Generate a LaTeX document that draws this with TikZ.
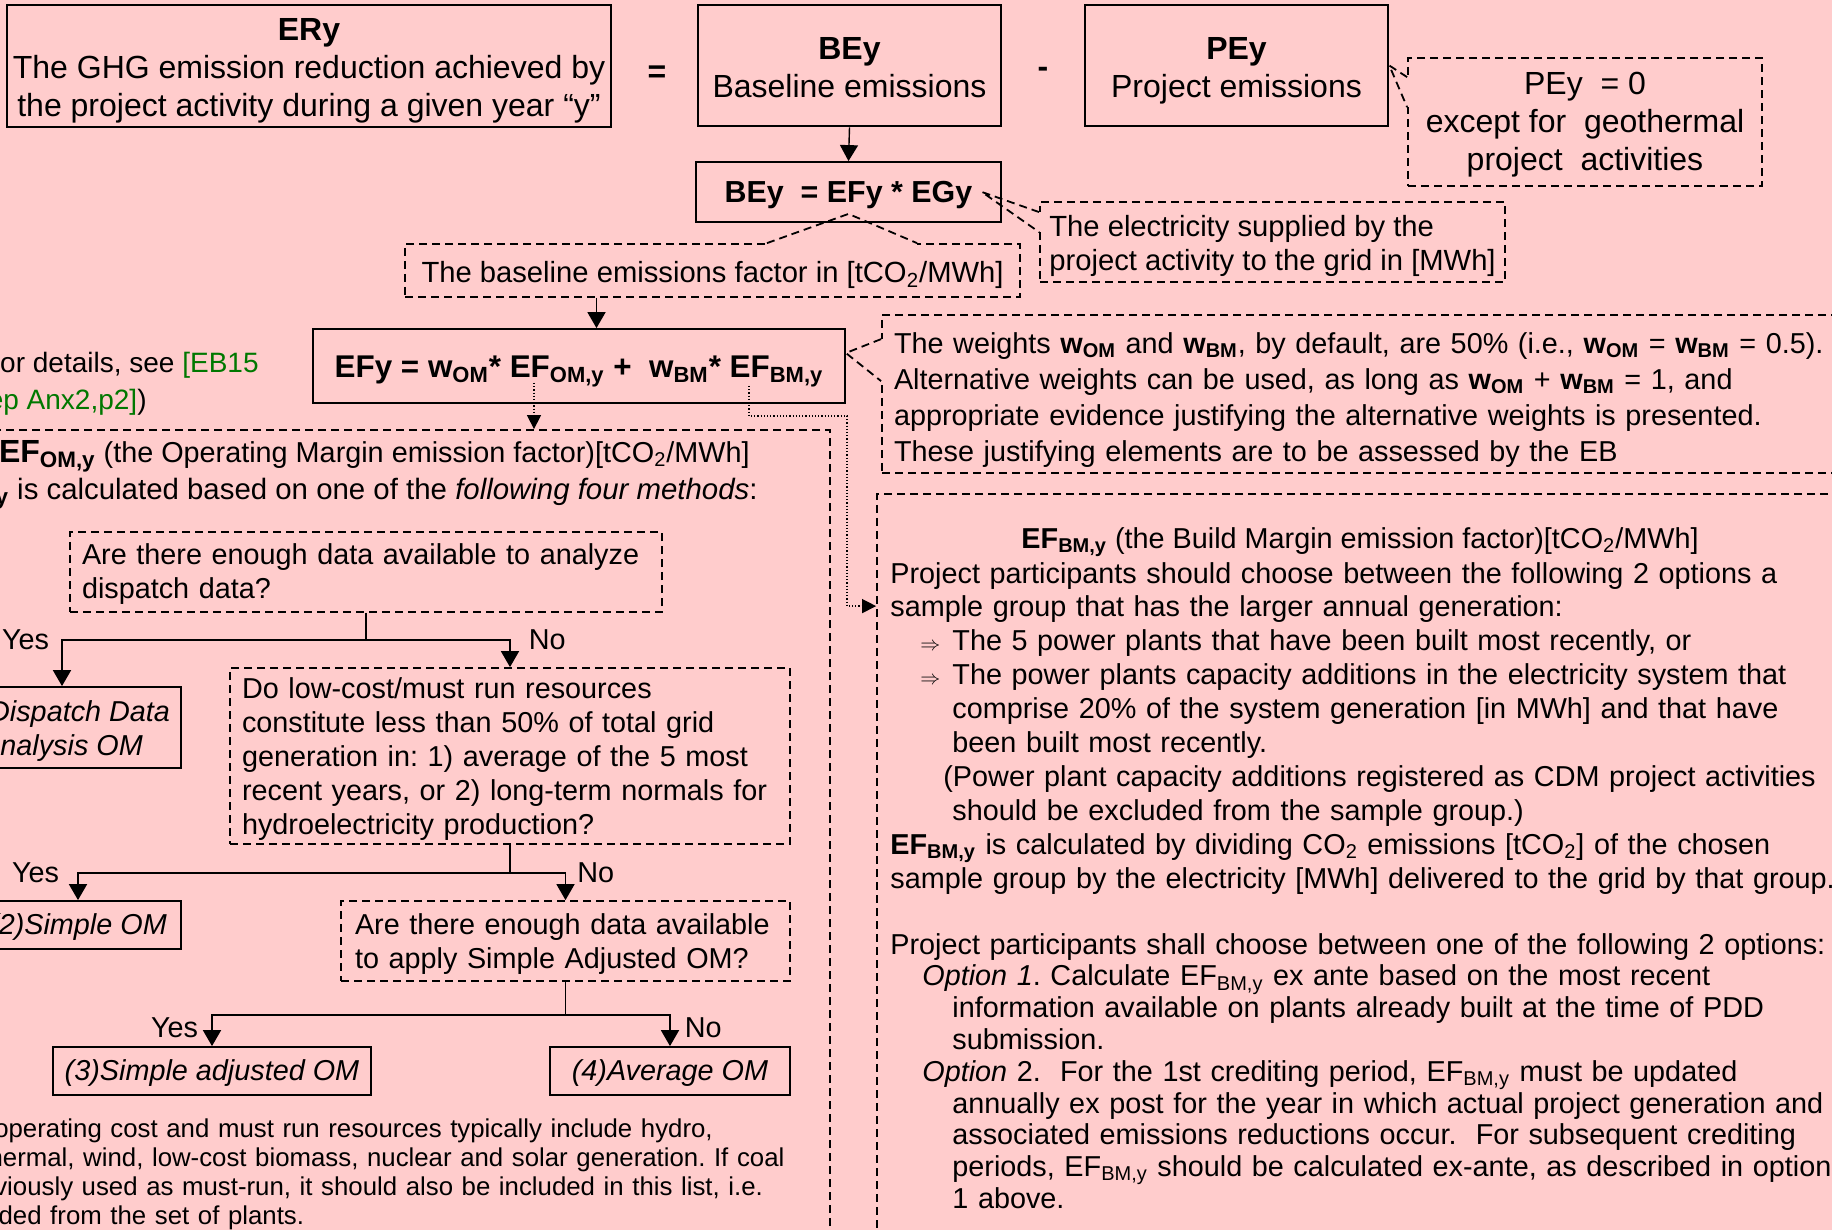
\documentclass[tikz,border=0pt]{standalone}
\usepackage{fontspec}
\setmainfont{Liberation Sans}
\usetikzlibrary{arrows.meta}
\definecolor{fondrose}{RGB}{255,204,204}
\definecolor{vertlien}{RGB}{0,120,0}
\frenchspacing
\newcommand\bigtxt{\fontsize{16pt}{19pt}\selectfont}
\newcommand\bodytxt{\fontsize{14.4pt}{17pt}\selectfont}
\newcommand\boxtxt{\fontsize{14.6pt}{17pt}\selectfont}
\newcommand\notetxt{\fontsize{12.9pt}{14.65pt}\selectfont}
\newcommand\arrowsym{{\fontsize{10pt}{10pt}\selectfont$\Rightarrow$}}
\tikzset{
  frame_big/.style = {draw=black, line width=1.3pt, inner sep=0pt},% boite du haut
  frame_s/.style = {draw=black, line width=0.9pt, inner sep=0pt},% boite pleine
  frame_d/.style = {draw=black, line width=0.9pt, inner sep=0pt,
    dash pattern=on 4pt off 2.5pt},% boite en tirets
  txt/.style = {inner sep=0pt, align=center, font=\bodytxt},% texte
  txt_big/.style = {txt, font=\bigtxt},
  lbl/.style = {inner sep=0pt, font=\bodytxt},% texte libre
  flow/.style = {line width=0.9pt, -{Triangle[width=9pt,length=8pt]}},
  dotflow/.style = {line width=0.7pt, dash pattern=on 0.6pt off 1pt,
    -{Triangle[width=7pt,length=7pt]}},
  wedge/.style = {line width=0.9pt, dash pattern=on 4pt off 2.5pt},% pointe de bulle
  bordergap/.style = {line width=2.6pt, fondrose}% coupe le bord sous la pointe
}
\begin{document}
\begin{tikzpicture}[x=0.5pt,y=-0.5pt]
\useasboundingbox (0,0) rectangle (1832,1230);
\clip (0,0) rectangle (1832,1230);
\fill[fondrose] (0,0) rectangle (1832,1230);

% equation du haut
\node[frame_big, minimum width=302pt, minimum height=61pt] (er) at (309,66) {};
\node[txt_big, yshift=-2.5pt] (ertxt) at (er.center)
  {\textbf{ERy}\\The GHG emission reduction achieved by\\the project activity during a given year “y”};
\node[font=\bigtxt\bfseries] (eqsign) at (657,74) {=};
\node[frame_big, minimum width=151.5pt, minimum height=60.5pt] (be) at (849.5,65.5) {};
\node[txt_big, yshift=-1.2pt] (betxt) at (be.center) {\textbf{BEy}\\Baseline emissions};
\node[font=\bigtxt\bfseries] (minus) at (1043,72) {-};
\node[frame_big, minimum width=151.5pt, minimum height=60.5pt] (pe) at (1236.5,65.5) {};
\node[txt_big, yshift=-2.7pt] (petxt) at (pe.center) {\textbf{PEy}\\Project emissions};
\node[frame_d, minimum width=177pt, minimum height=64pt] (pe0) at (1585,122) {};
\node[txt_big, yshift=-1.5pt] (pe0txt) at (pe0.center)
  {PEy\ \ = 0\\except for\ \ geothermal\\project\ \ activities};

\node[frame_s, minimum width=152.5pt, minimum height=30pt] (beq) at (848.5,192) {};
\node[txt, font=\fontsize{15.2pt}{18pt}\selectfont\bfseries, yshift=-1.7pt] (beqtxt) at (beq.center)
  {BEy\ \ = EFy * EGy};
\node[frame_d, minimum width=232.5pt, minimum height=40pt] (el) at (1272.5,242) {};
\node[txt, font=\boxtxt, align=left, yshift=-2pt] (eltxt) at (el.center)
  {The electricity supplied by the\\project activity to the grid in [MWh]};
\node[frame_d, minimum width=307.5pt, minimum height=26.5pt] (bl) at (712.5,270.5) {};
\node[txt, font=\boxtxt, yshift=-2.3pt] (bltxt) at (bl.center)
  {The baseline emissions factor in [tCO\textsubscript{2}/MWh]};
\node[frame_s, minimum width=266pt, minimum height=37pt] (ef) at (579,366) {};
\node[txt, font=\fontsize{15.7pt}{19pt}\selectfont\bfseries, yshift=-2.8pt] (eftxt) at (ef.center)
  {EFy = w\textsubscript{OM}* EF\textsubscript{OM,y} +\ \ w\textsubscript{BM}* EF\textsubscript{BM,y}};
\node[frame_d, minimum width=489pt, minimum height=79pt] (wt) at (1371,394) {};
\node[txt, font=\fontsize{14.4pt}{18pt}\selectfont, text width=477pt, align=left, yshift=-3pt] (wttxt) at (wt.center)
  {The weights \textbf{w\textsubscript{OM}} and \textbf{w\textsubscript{BM}}, by default, are 50\% (i.e., \textbf{w\textsubscript{OM}} = \textbf{w\textsubscript{BM}} = 0.5).\\
   Alternative weights can be used, as long as \textbf{w\textsubscript{OM}} + \textbf{w\textsubscript{BM}} = 1, and\\
   appropriate evidence justifying the alternative weights is presented.\\
   These justifying elements are to be assessed by the EB};

\draw[flow, line width=0.7pt] (be.south) -- (beq.north);
\draw[flow] ([xshift=-58pt]bl.south) -- ([xshift=-58pt]bl.south |- ef.north);

% pointes des bulles
\coordinate (pa) at ([yshift=-10pt]pe0.north west);
\coordinate (pb) at ([yshift=-25pt]pe0.north west);
\draw[bordergap] (pa) -- (pb);
\draw[wedge] (pa) -- (pe.east) -- (pb);
\coordinate (ba) at ([xshift=27.25pt]bl.north);
\coordinate (bb) at ([xshift=102.25pt]bl.north);
\draw[bordergap] (ba) -- (bb);
\draw[wedge] (ba) -- ([yshift=4.5pt]beq.south) -- (bb);
\coordinate (ea) at ([yshift=-5.5pt]el.north west);
\coordinate (eb) at ([yshift=-15.5pt]el.north west);
\draw[bordergap] (ea) -- (eb);
\draw[wedge] (ea) -- ([xshift=-10pt]beq.east) -- (eb);
\coordinate (wa) at ([yshift=-12.5pt]wt.north west);
\coordinate (wb) at ([yshift=-33.5pt]wt.north west);
\draw[bordergap] (wa) -- (wb);
\draw[wedge] (wa) -- ([yshift=6.5pt]ef.east) -- (wb);

\node[lbl, font=\fontsize{14pt}{17pt}\selectfont, anchor=base east] (det1) at (259,372) {(For details, see \textcolor{vertlien}{[EB15}};
\node[lbl, font=\fontsize{14pt}{17pt}\selectfont, anchor=base east] (det2) at (147,409) {\textcolor{vertlien}{Rep Anx2,p2]})};

% marge d'operation
\node[frame_d, minimum width=425pt, minimum height=415pt] (om) at (405,845) {};
\node[lbl, anchor=base east] (omt) at (750,462)
  {{\bigtxt\bfseries EF\textsubscript{OM,y}} (the Operating Margin emission factor)[tCO\textsubscript{2}/MWh]};
\node[lbl, font=\fontsize{14.7pt}{17pt}\selectfont, anchor=base east] (omm) at (758,499)
  {{\bigtxt\bfseries EF\textsubscript{OM,y}} is calculated based on one of the \textit{following four methods}:};

\node[frame_d, minimum width=296pt, minimum height=40pt] (q1) at (366,572) {};
\node[txt, text width=284pt, align=left, yshift=-1.2pt] (q1txt) at (q1.center)
  {Are there enough data available to analyze\\dispatch data?};
\node[frame_d, minimum width=280pt, minimum height=88pt] (q2) at (510,756) {};
\node[txt, text width=268pt, align=left, yshift=-1.5pt] (q2txt) at (q2.center)
  {Do low-cost/must run resources\\constitute less than 50\% of total grid\\generation in: 1) average of the 5 most\\recent years, or 2) long-term normals for\\hydroelectricity production?};
\node[frame_d, minimum width=224.5pt, minimum height=40pt] (q3) at (565.5,941) {};
\node[txt, text width=210.5pt, align=left, yshift=-1.75pt] (q3txt) at (q3.center)
  {Are there enough data available\\to apply Simple Adjusted OM?};
\node[frame_s, minimum width=119pt, minimum height=40.5pt] (disp) at (62,727.5) {};
\node[txt, font=\bodytxt\itshape, yshift=-1.75pt] (disptxt) at (disp.center) {(1)Dispatch Data\\Analysis OM};
\node[frame_s, minimum width=103pt, minimum height=24pt] (simple) at (78,925) {};
\node[txt, font=\bodytxt\itshape, yshift=-1.2pt] (simpletxt) at (simple.center) {(2)Simple OM};
\node[frame_s, minimum width=159pt, minimum height=24pt] (sadj) at (212,1071) {};
\node[txt, font=\bodytxt\itshape, yshift=-1.2pt] (sadjtxt) at (sadj.center) {(3)Simple adjusted OM};
\node[frame_s, minimum width=120pt, minimum height=24pt] (avg) at (670,1071) {};
\node[txt, font=\bodytxt\itshape, yshift=-1.2pt] (avgtxt) at (avg.center) {(4)Average OM};

\draw[flow] (q1.south) -- ++(0,27) -| node[lbl, pos=0.5, anchor=east, xshift=-6pt] {Yes} (disp.north);
\draw[flow] (q1.south) -- ++(0,27) -| node[lbl, pos=0.5, anchor=west, xshift=9pt] {No} (q2.north);
\draw[flow] (q2.south) -- ++(0,28) -| node[lbl, pos=0.5, anchor=east, xshift=-9pt] {Yes} (simple.north);
\draw[flow] (q2.south) -- ++(0,28) -| node[lbl, pos=0.5, anchor=west, xshift=5.5pt] {No} (q3.north);
\draw[flow] (q3.south) -- ++(0,33) -| node[lbl, pos=0.5, anchor=north east, xshift=-6.5pt, yshift=-1pt] {Yes} (sadj.north);
\draw[flow] (q3.south) -- ++(0,33) -| node[lbl, pos=0.5, anchor=north west, xshift=7pt, yshift=-1pt] {No} (avg.north);

\node[inner sep=0pt, font=\notetxt, text width=440pt, align=left, anchor=base west] (note) at (-62,1137)
  {Low operating cost and must run resources typically include hydro,\\
   geothermal, wind, low-cost biomass, nuclear and solar generation. If coal\\
   is obviously used as must-run, it should also be included in this list, i.e.\\
   excluded from the set of plants.};

% marge de construction
\node[frame_d, minimum width=491.5pt, minimum height=383pt] (bm) at (1368.5,877) {};
\node[lbl, anchor=base] (bmt) at (1360,548)
  {\textbf{EF\textsubscript{BM,y}} (the Build Margin emission factor)[tCO\textsubscript{2}/MWh]};
\node[inner sep=0pt, font=\fontsize{14.4pt}{16.95pt}\selectfont, text width=490pt, align=left,
  anchor=base west] (bma) at (890,583)
  {Project participants should choose between the following 2 options a\\
   sample group that has the larger annual generation:\\
   \hspace*{15pt}\makebox[16pt][l]{\arrowsym}The 5 power plants that have been built most recently, or\\
   \hspace*{15pt}\makebox[16pt][l]{\arrowsym}The power plants capacity additions in the electricity system that\\
   \hspace*{31pt}comprise 20\% of the system generation [in MWh] and that have\\
   \hspace*{31pt}been built most recently.\\
   \hspace*{26.5pt}(Power plant capacity additions registered as CDM project activities\\
   \hspace*{31pt}should be excluded from the sample group.)\\
   \textbf{EF\textsubscript{BM,y}} is calculated by dividing CO\textsubscript{2} emissions [tCO\textsubscript{2}] of the chosen\\
   sample group by the electricity [MWh] delivered to the grid by that group.};
\node[inner sep=0pt, font=\fontsize{14.4pt}{15.9pt}\selectfont, text width=490pt, align=left,
  anchor=base west] (bmb) at (890,954)
  {Project participants shall choose between one of the following 2 options:\\
   \hspace*{16pt}\textit{Option 1}. Calculate EF\textsubscript{BM,y} ex ante based on the most recent\\
   \hspace*{31pt}information available on plants already built at the time of PDD\\
   \hspace*{31pt}submission.\\
   \hspace*{16pt}\textit{Option} 2.\ \ For the 1st crediting period, EF\textsubscript{BM,y} must be updated\\
   \hspace*{31pt}annually ex post for the year in which actual project generation and\\
   \hspace*{31pt}associated emissions reductions occur.\ \ For subsequent crediting\\
   \hspace*{31pt}periods, EF\textsubscript{BM,y} should be calculated ex-ante, as described in option\\
   \hspace*{31pt}1 above.};

% fleches pointillees
\coordinate (efom) at ([xshift=-22.5pt,yshift=10.5pt]ef.south);
\draw[dotflow] (efom) -- (efom |- om.north);
\coordinate (efbm) at ([xshift=85pt,yshift=9pt]ef.south);
\draw[dotflow] (efbm) -- ++(0,30) -- ++(98,0) |- ([yshift=-56.5pt]bm.north west);
\end{tikzpicture}
\end{document}
